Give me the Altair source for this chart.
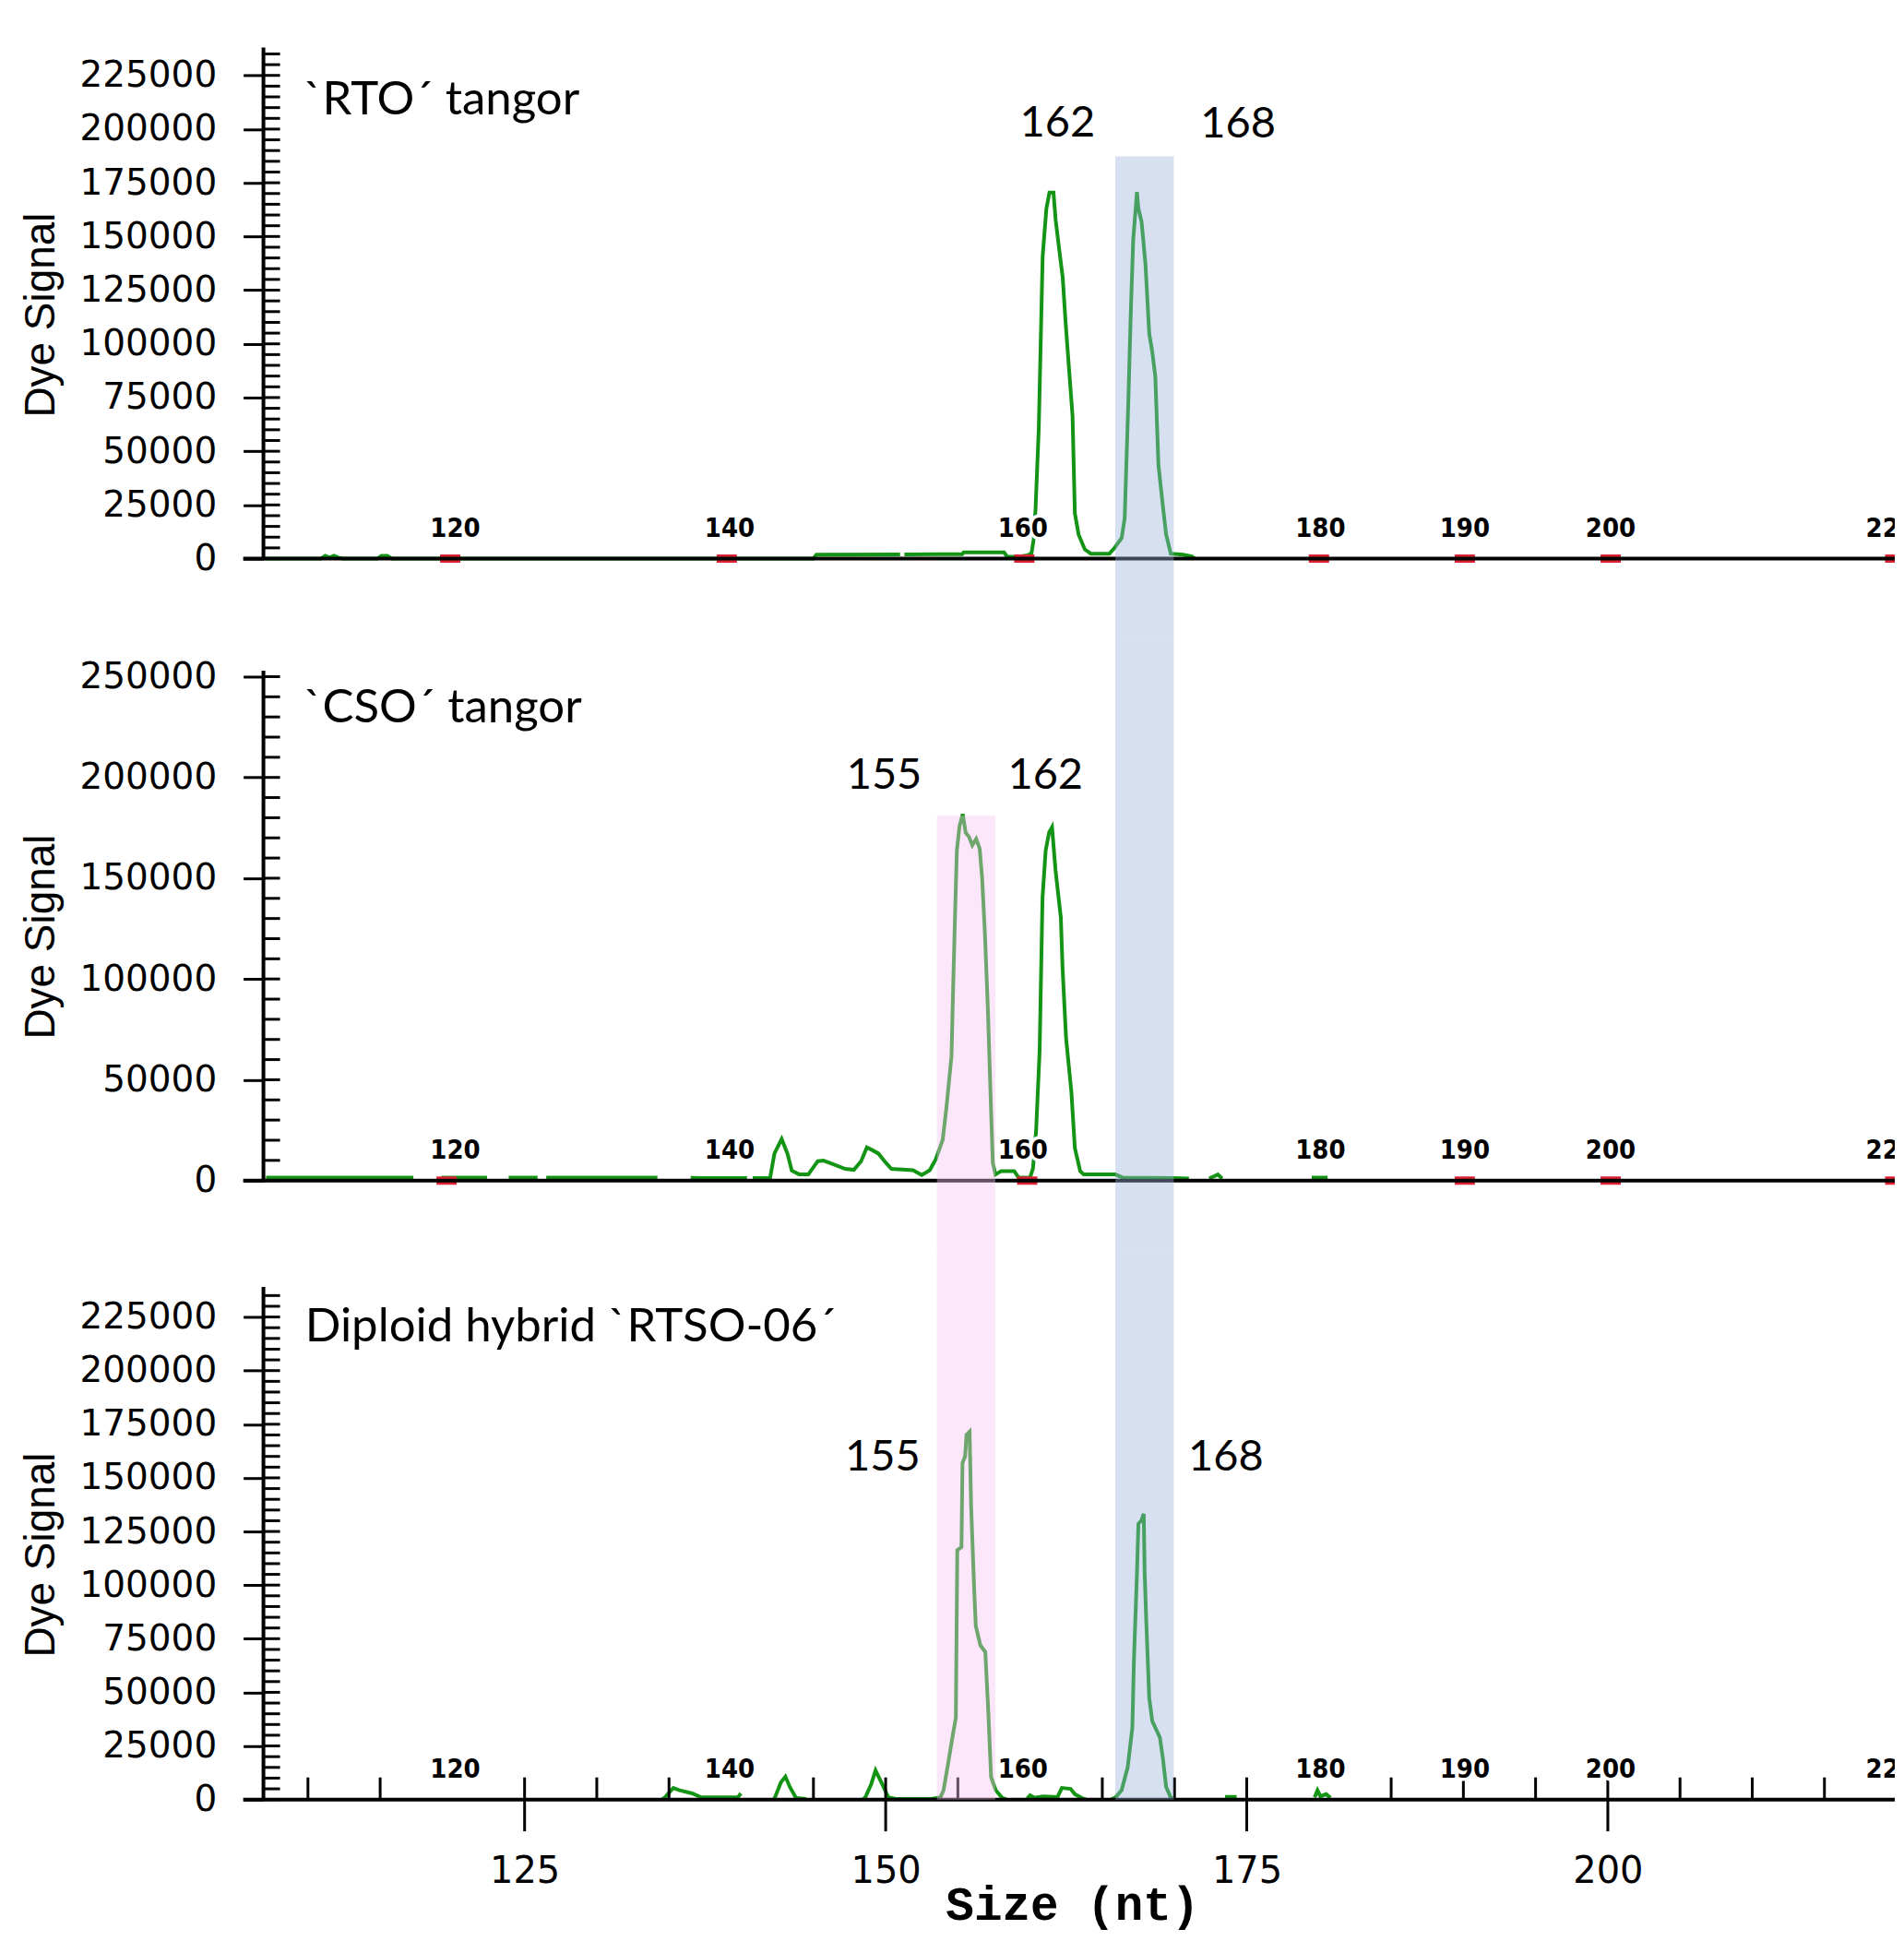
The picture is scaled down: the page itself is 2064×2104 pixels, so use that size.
import altair as alt
import pandas as pd

# ---------------- data ----------------
# Panel 1: `RTO´ tangor
RTO_SIZE = [107.0, 110.9, 111.2, 111.5, 111.8, 112.1, 112.4, 114.8, 115.1, 115.5, 115.8, 145.0, 145.2, 151.0,
            151.3, 155.3, 155.4, 158.2, 158.4, 159.1, 159.8, 160.1, 160.25, 160.38, 160.6, 160.87, 161.13, 161.34,
            161.62, 161.77, 162.02, 162.26, 162.45, 162.66, 162.94, 163.1, 163.36, 163.79, 164.21, 165.49, 165.8,
            166.34, 166.55, 166.8, 166.97, 167.14, 167.4, 167.5, 167.72, 167.99, 168.25, 168.46, 168.67, 168.89,
            169.21, 169.42, 169.74, 170.6, 171.2, 171.4]
RTO_SIGNAL = [0, 0, 1300, 500, 1300, 500, 0, 0, 1300, 1300, 0, 0, 1800, 1900,
              1900, 2100, 2900, 2900, 1000, 800, 1500, 2500, 9000, 23400, 60300, 140800, 163000, 170400,
              170400, 157700, 143800, 130800, 110900, 91700, 66400, 21100, 11200, 4300, 2300, 2300, 4600,
              9600, 18800, 72500, 113900, 148400, 170700, 163000, 156900, 137000, 104800, 96300, 84800, 43400,
              23500, 11200, 2300, 1800, 1000, 0]
RTO_SEGMENT = [0] * 14 + [1] * 46

# Panel 2: `CSO´ tangor
CSO_SIZE = [107.1, 117.3,
            119.25, 122.4,
            123.9, 125.9,
            126.5, 134.2,
            136.5, 140.4,
            140.8, 142.0, 142.3, 142.8, 143.2, 143.5, 144.0, 144.65, 145.3, 145.7, 146.35, 147.2, 147.8, 148.3,
            148.7, 149.1, 149.5, 150.0, 150.4, 151.9, 152.5, 153.05, 153.46, 153.95, 154.2, 154.56, 154.68,
            154.8, 154.93, 155.12, 155.34, 155.54, 155.78, 156.0, 156.27, 156.51, 156.68, 156.88, 157.08,
            157.25, 157.42, 157.6, 158.0, 158.9, 159.2, 160.0, 160.2, 160.42, 160.66, 160.86, 161.08, 161.32,
            161.52, 161.76, 162.13, 162.25, 162.49, 162.86, 163.1, 163.47, 163.71, 165.9, 166.4, 170.0, 171.0,
            172.4, 173.0, 173.3,
            179.5, 180.6]
CSO_SIGNAL = [1500, 1500,
              1500, 1500,
              1500, 1500,
              1500, 1500,
              1300, 1200,
              1200, 1300, 13400, 20600, 13400, 4900, 3100, 3100, 9600, 9900, 8100, 5800, 5300, 9600,
              16400, 15000, 13400, 8900, 5800, 5100, 2700, 5100, 10400, 20200, 35700, 61800, 97800,
              130400, 163800, 176100, 181800, 172600, 170400, 166300, 169500, 164700, 150000, 121400, 84700,
              45500, 8800, 3000, 4700, 4700, 1500, 1500, 6000, 25100, 64300, 140200, 163800, 172800,
              175300, 154100, 130400, 105100, 70800, 43900, 16100, 4700, 3000, 3000, 1500, 1200, 1000,
              1000, 3000, 1000,
              1500, 1500]
CSO_SEGMENT = [0, 0, 1, 1, 2, 2, 3, 3, 4, 4] + [5] * 65 + [6] * 3 + [7] * 2

# Panel 3: Diploid hybrid `RTSO-06´
HYB_SIZE = [134.5, 134.67, 135.3, 135.73, 136.6, 137.2, 139.77, 139.98,
            142.2, 142.32, 142.74, 143.06, 143.38, 143.8, 144.5,
            148.4, 148.6, 149.0, 149.3, 149.76, 150.18, 150.7, 153.16, 153.8, 154.01, 154.32, 154.64, 154.86,
            154.96, 155.25, 155.32, 155.5, 155.6, 155.81, 155.92, 156.13, 156.24, 156.56, 156.9, 157.09, 157.3,
            157.62, 158.05, 158.36,
            159.8, 160.0, 160.3, 160.9, 161.9, 162.2, 162.8, 163.1, 163.6, 163.9,
            165.6, 165.9, 166.34, 166.76, 167.08, 167.19, 167.4, 167.5, 167.7, 167.87, 167.93, 168.04, 168.25,
            168.46, 168.78, 168.99, 169.2, 169.42, 169.74, 170.0,
            173.5, 174.3,
            179.7, 179.9, 180.1, 180.5, 180.8]
HYB_SIGNAL = [0, 700, 5400, 4300, 2900, 1100, 1100, 2900,
              0, 700, 7900, 10700, 5700, 700, 300,
              0, 1100, 7200, 13600, 7200, 1100, 300, 300, 1100, 4400, 16600, 29700, 38100,
              116300, 117700, 157000, 160000, 170000, 171500, 136300, 97900, 81000, 71900, 68800, 43500, 10500,
              4400, 900, 0,
              500, 2000, 800, 1500, 1200, 5400, 5000, 2500, 700, 0,
              0, 900, 4400, 15100, 33500, 64900, 105600, 128600, 130000, 133200, 106300, 84100, 47300,
              36600, 32000, 28900, 18900, 5900, 900, 0,
              1300, 1300,
              1000, 4300, 1500, 2500, 800]
HYB_SEGMENT = [0] * 8 + [1] * 7 + [2] * 29 + [3] * 10 + [4] * 20 + [5] * 2 + [6] * 5

# size-standard labels drawn along each trace
STD_LABELS = ["120", "140", "160", "180", "190", "200", "220"]
STD_SIZE = [120.2, 139.2, 159.5, 180.1, 190.1, 200.2, 219.6]
RTO_MARKERS = [119.85, 139.0, 159.6, 180.0, 190.1, 200.2, 219.9]
CSO_MARKERS = [119.6, 159.8, 190.1, 200.2, 219.9]

# panel titles and peak annotations
PANEL_TITLES = ["`RTO´ tangor", "`CSO´ tangor", "Diploid hybrid `RTSO-06´"]
TITLE_SIZE = [109.7, 109.7, 109.8]
TITLE_SIGNAL = [206800, 227100, 213500]
PEAK_TEXT = [["162", "168"], ["155", "162"], ["155", "168"]]
PEAK_SIZE = [[161.9, 174.4], [149.9, 161.06], [149.8, 173.56]]
PEAK_SIGNAL = [[202700, 202300], [200600, 200600], [159300, 159300]]

# highlighted allele windows
PINK_BAND = [153.55, 157.6]
BLUE_BAND = [165.9, 169.95]
BLUE_TOP_RTO = 187300
PINK_TOP_CSO = 181000

# axis tick values
X_MAJOR = [125, 150, 175, 200]
X_MINOR = [110, 115, 125, 130, 135, 145, 150, 155, 165, 170, 175, 185, 190, 195, 200, 205, 210, 215]
Y_MAJOR_A = [0, 25000, 50000, 75000, 100000, 125000, 150000, 175000, 200000, 225000]
Y_MINOR_A = list(range(0, 235001, 5000))
Y_MAJOR_B = [0, 50000, 100000, 150000, 200000, 250000]
Y_MINOR_B = list(range(0, 250001, 10000))

# ---------------- layout constants ----------------
XMIN, XMAX = 106.92, 219.87
PX_PER_NT = 15.68
BASE_LEFT = XMIN - 22 / PX_PER_NT
INNER_X = 18 / PX_PER_NT          # inner tick length (18 px) in size units
WIDTH = 1771
GREEN = "#149414"
RED = "#dd2233"
PINK = "#f8c1f3"
BLUE = "#99b2da"
STD_FONT = "DejaVu Sans Condensed, Liberation Sans"


def make_panel(idx, size, signal, segment, ydom, height, ymajor, yminor, axis_top,
               title_y, bands, markers, bottom):
    px_per_unit = height / (ydom[1] - ydom[0])
    xscale = alt.Scale(domain=[XMIN, XMAX], nice=False, zero=False)
    yscale = alt.Scale(domain=ydom, nice=False, zero=False)
    yaxis = alt.Axis(
        values=ymajor, format="d", tickSize=22, domain=False, grid=False,
        tickColor="black", tickWidth=3,
        labelFont="DejaVu Sans", labelFontSize=39, labelColor="black", labelPadding=29,
        labelOverlap=False, labelFlush=False,
        title="Dye Signal", titleFont="Liberation Sans", titleFontSize=46, titleFontWeight="normal",
        titleColor="black", titleAlign="center", titleBaseline="bottom",
        titleX=-217, titleY=title_y)
    if bottom:
        xaxis = alt.Axis(
            values=X_MAJOR, format="d", tickSize=34, domain=False, grid=False,
            tickColor="black", tickWidth=3,
            labelFont="DejaVu Sans", labelFontSize=40, labelColor="black", labelPadding=24,
            labelOverlap=False, labelFlush=False,
            title="Size (nt)", titleFont="Liberation Mono", titleFontSize=51, titleFontWeight="bold",
            titleColor="black", titleX=878, titleY=90, titleBaseline="top", titleAlign="center")
    else:
        xaxis = None

    # other layers leave the y axis (and the bottom x axis) to the trace layer
    def X(field):
        return alt.X(field) if bottom else alt.X(field, axis=None)

    def Y(field):
        return alt.Y(field)

    trace = pd.DataFrame({"size": size, "signal": signal, "segment": segment})

    line = alt.Chart(trace).mark_line(color=GREEN, strokeWidth=4, clip=True).encode(
        x=alt.X("size:Q", scale=xscale, axis=xaxis),
        y=alt.Y("signal:Q", scale=yscale, axis=yaxis),
        detail="segment:N")

    layers = [line]
    if markers:
        mk = alt.Chart(pd.DataFrame({"size": markers, "zero": [0] * len(markers)})).mark_tick(
            orient="horizontal", size=22, thickness=9, color=RED, opacity=1, clip=True).encode(
            x=X("size:Q"), y=Y("zero:Q"))
        layers.append(mk)

    baseline = alt.Chart(pd.DataFrame({"x0": [BASE_LEFT], "x1": [XMAX], "y0": [0]})).mark_rule(
        color="black", strokeWidth=4).encode(x=X("x0:Q"), x2="x1:Q", y=Y("y0:Q"))
    vline = alt.Chart(pd.DataFrame({"x0": [XMIN], "y0": [0], "y1": [axis_top]})).mark_rule(
        color="black", strokeWidth=4).encode(x=X("x0:Q"), y=Y("y0:Q"), y2="y1:Q")
    ytick_in = alt.Chart(pd.DataFrame({"v": yminor, "x0": [XMIN] * len(yminor),
                                       "x1": [XMIN + INNER_X] * len(yminor)})).mark_rule(
        color="black", strokeWidth=3).encode(y=Y("v:Q"), x=X("x0:Q"), x2="x1:Q")
    layers += [baseline, vline, ytick_in]
    if bottom:
        inner_y = 24 / px_per_unit
        xtick_in = alt.Chart(pd.DataFrame({"v": X_MINOR, "y0": [0] * len(X_MINOR),
                                           "y1": [inner_y] * len(X_MINOR)})).mark_rule(
            color="black", strokeWidth=3).encode(x=X("v:Q"), y=Y("y0:Q"), y2="y1:Q")
        layers.append(xtick_in)

    std = pd.DataFrame({"size": STD_SIZE, "label": STD_LABELS, "zero": [0] * len(STD_SIZE)})
    halo = alt.Chart(std).mark_text(
        font=STD_FONT, fontSize=29, fontWeight="bold", dy=-33, baseline="middle",
        align="center", color="white", stroke="white", strokeWidth=7, clip=True).encode(
        x=X("size:Q"), y=Y("zero:Q"), text="label:N")
    stdtxt = alt.Chart(std).mark_text(
        font=STD_FONT, fontSize=29, fontWeight="bold", dy=-33, baseline="middle",
        align="center", color="black", clip=True).encode(
        x=X("size:Q"), y=Y("zero:Q"), text="label:N")
    layers += [halo, stdtxt]

    ttl = alt.Chart(pd.DataFrame({"size": [TITLE_SIZE[idx]], "signal": [TITLE_SIGNAL[idx]],
                                  "t": [PANEL_TITLES[idx]]})).mark_text(
        font="Lato", fontSize=51, align="left", baseline="alphabetic", color="black").encode(
        x=X("size:Q"), y=Y("signal:Q"), text="t:N")
    pk = alt.Chart(pd.DataFrame({"size": PEAK_SIZE[idx], "signal": PEAK_SIGNAL[idx],
                                 "t": PEAK_TEXT[idx]})).mark_text(
        font="Lato", fontSize=47, align="center", baseline="middle", color="black").encode(
        x=X("size:Q"), y=Y("signal:Q"), text="t:N")
    layers += [ttl, pk]

    bdf = pd.DataFrame(bands, columns=["x0", "x1", "y0", "y1", "fill"])
    band = alt.Chart(bdf).mark_rect(opacity=0.4).encode(
        x=X("x0:Q"), x2="x1:Q", y=Y("y0:Q"), y2="y1:Q",
        color=alt.Color("fill:N", scale=None))
    layers.append(band)

    return alt.layer(*layers).properties(width=WIDTH, height=height)


P1_DOM = [-36080, 238000]
P2_DOM = [-36106, 270110]
P3_DOM = [0, 254700]

p1 = make_panel(0, RTO_SIZE, RTO_SIGNAL, RTO_SEGMENT, P1_DOM, 639, Y_MAJOR_A, Y_MINOR_A, 238000, 290,
                [[BLUE_BAND[0], BLUE_BAND[1], P1_DOM[0], BLUE_TOP_RTO, BLUE]], RTO_MARKERS, False)
p2 = make_panel(1, CSO_SIZE, CSO_SIGNAL, CSO_SEGMENT, P2_DOM, 670, Y_MAJOR_B, Y_MINOR_B, 253000, 326,
                [[PINK_BAND[0], PINK_BAND[1], P2_DOM[0], PINK_TOP_CSO, PINK],
                 [BLUE_BAND[0], BLUE_BAND[1], P2_DOM[0], P2_DOM[1], BLUE]], CSO_MARKERS, False)
p3 = make_panel(2, HYB_SIZE, HYB_SIGNAL, HYB_SEGMENT, P3_DOM, 593, Y_MAJOR_A, Y_MINOR_A, 239000, 327,
                [[PINK_BAND[0], PINK_BAND[1], 0, P3_DOM[1], PINK],
                 [BLUE_BAND[0], BLUE_BAND[1], 0, P3_DOM[1], BLUE]], None, True)

chart = alt.vconcat(p1, p2, p3, spacing=0).properties(
    padding={"left": 14, "top": 40, "right": 0, "bottom": 5},
    background="white",
).configure_view(strokeWidth=0).configure_axis(grid=False)

chart.save("out.html", embed_options={"renderer": "svg", "actions": False})
